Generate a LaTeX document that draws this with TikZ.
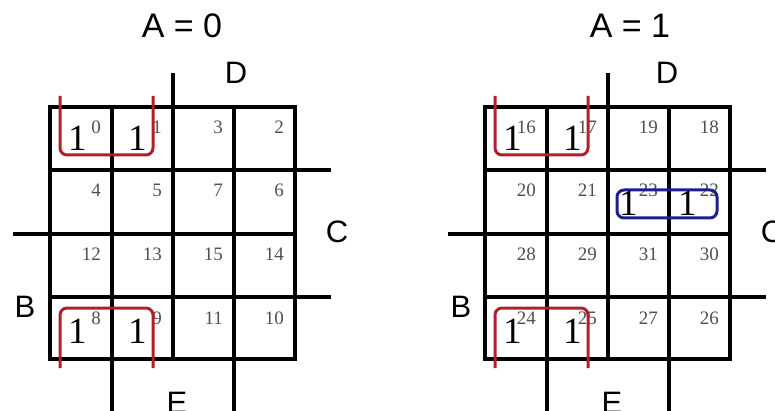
\documentclass[tikz,border=0pt]{standalone}
\usepackage{fontspec}
\setmainfont{Liberation Serif}
\setsansfont{Liberation Sans}
\definecolor{kred}{RGB}{180,30,40}
\definecolor{kblue}{RGB}{30,30,140}
\definecolor{numgray}{RGB}{80,80,80}
\begin{document}
\begin{tikzpicture}[x=1pt,y=-1pt,
  gridline/.style={line width=3.2pt, black},
  loopline/.style={line width=3pt, rounded corners=7pt},
  varlabel/.style={font=\sffamily\fontsize{31}{31}\selectfont, inner sep=0pt},
  titlelabel/.style={font=\sffamily\fontsize{34}{34}\selectfont, inner sep=0pt},
  cellnum/.style={font=\fontsize{19}{19}\selectfont, text=numgray, inner sep=0pt, anchor=base east},
  onelabel/.style={font=\fontsize{37}{37}\selectfont, inner sep=0pt, anchor=base west}]
\useasboundingbox (0,0) rectangle (775,411);
\clip (0,0) rectangle (775,411);
\fill[white] (0,0) rectangle (775,411);
\foreach \o/\k/\dx in {0/0/0, 435/1/1} {
  % grid
  \draw[gridline] (\o+50,107) rectangle (\o+295,359);
  \draw[gridline] (\o+112,107) -- (\o+112,411);
  \draw[gridline] (\o+173,73) -- (\o+173,359);
  \draw[gridline] (\o+234,107) -- (\o+234,411);
  \draw[gridline] (\o+50,170) -- (\o+331,170);
  \draw[gridline] (\o+13,234) -- (\o+295,234);
  \draw[gridline] (\o+50,297) -- (\o+331,297);
  % cell numbers
  \foreach \r/\ry in {0/107,1/170,2/234,3/297} {
    \foreach \c/\cx in {0/112,1/173,2/234,3/295} {
      \pgfmathtruncatemacro{\gc}{\c==2 ? 3 : (\c==3 ? 2 : \c)}
      \pgfmathtruncatemacro{\gr}{\r==2 ? 3 : (\r==3 ? 2 : \r)}
      \pgfmathtruncatemacro{\num}{16*\k + 4*\gr + \gc}
      \node[cellnum] (num\num) at (\o+\cx-11,\ry+27) {\num};
    }
  }
  % red loops
  \draw[loopline, kred] (\o+60,96) -- (\o+60,155) -- (\o+153,155) -- (\o+153,96);
  \draw[loopline, kred] (\o+60,368) -- (\o+60,308) -- (\o+153,308) -- (\o+153,368);
  % ones in red loops
  \node[onelabel] (oneA\k) at (\o+68,151) {1};
  \node[onelabel] (oneB\k) at (\o+128,151) {1};
  \node[onelabel] (oneC\k) at (\o+68,343) {1};
  \node[onelabel] (oneD\k) at (\o+128,343) {1};
  % labels
  \node[varlabel] (D\k) at (\o+236-4*\dx,73) {D};
  \node[varlabel] (C\k) at (\o+337,232) {C};
  \node[varlabel] (B\k) at (\o+25+1*\dx,307) {B};
  \node[varlabel] (E\k) at (\o+177,403) {E};
}
\node[titlelabel] (title0) at (182,26) {A = 0};
\node[titlelabel] (title1) at (630,26) {A = 1};
% blue loop
\draw[loopline, kblue] (617,190) rectangle (717,218);
\node[onelabel] (oneE1) at (619,216) {1};
\node[onelabel] (oneF1) at (678,216) {1};
\end{tikzpicture}
\end{document}
